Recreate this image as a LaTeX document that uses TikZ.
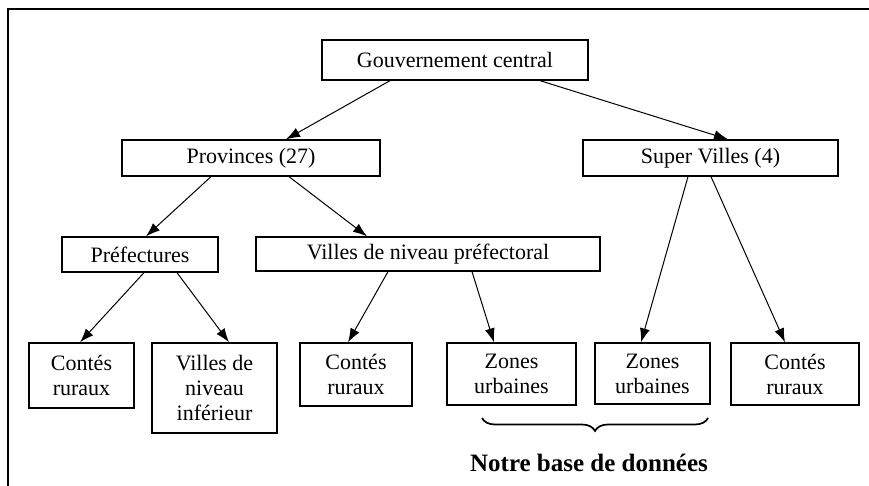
\documentclass[tikz,border=0pt]{standalone}
\usepackage{fontspec}
\setmainfont{Liberation Serif}
\usetikzlibrary{arrows.meta,decorations.pathreplacing}
\tikzset{
  boxnode/.style={draw, line width=1.3pt, inner sep=0pt, align=center,
    font=\fontsize{22}{25}\selectfont},
  link/.style={line width=1pt, -{Latex[length=14pt,width=10pt]}},
  frameline/.style={line width=1.4pt}
}
\begin{document}
\begin{tikzpicture}[x=1pt,y=-1pt]
\useasboundingbox (0,0) rectangle (869,486);
\fill[white] (0,0) rectangle (869,486);
% frame
\draw[frameline] (8,486) -- (8,9) -- (869,9);
% nodes
\node[boxnode, minimum width=266pt, minimum height=40pt] (gov) at (455,60) {Gouvernement central};
\node[boxnode, minimum width=258pt, minimum height=36pt] (prov) at (251,158) {Provinces (27)};
\node[boxnode, minimum width=255pt, minimum height=36pt] (super) at (710.5,158) {Super Villes (4)};
\node[boxnode, minimum width=156pt, minimum height=35pt] (pref) at (140,254.5) {Préfectures};
\node[boxnode, minimum width=344pt, minimum height=34pt] (vpref) at (428,254) {Villes de niveau préfectoral};
\node[boxnode, minimum width=105pt, minimum height=65pt] (a) at (81.5,375.5) {Contés\\ruraux};
\node[boxnode, minimum width=125pt, minimum height=90pt] (b) at (214.5,388) {Villes de\\niveau\\inférieur};
\node[boxnode, minimum width=112pt, minimum height=63pt] (c) at (356,374.5) {Contés\\ruraux};
\node[boxnode, minimum width=129pt, minimum height=62pt] (d) at (511.5,374) {Zones\\urbaines};
\node[boxnode, minimum width=115pt, minimum height=61pt] (e) at (652.5,373.5) {Zones\\urbaines};
\node[boxnode, minimum width=128pt, minimum height=62pt] (f) at (795,374) {Contés\\ruraux};
% connectors
\draw[link] ([xshift=-65pt]gov.south) -- ([xshift=35pt]prov.north);
\draw[link] ([xshift=85pt]gov.south) -- ([xshift=17.5pt]super.north);
\draw[link] ([xshift=-40pt]prov.south) -- ([xshift=6pt]pref.north);
\draw[link] ([xshift=38pt]prov.south) -- ([xshift=-61pt]vpref.north);
\draw[link] ([xshift=4pt]pref.south) -- ([xshift=-1.5pt]a.north);
\draw[link] ([xshift=37pt]pref.south) -- ([xshift=14.5pt]b.north);
\draw[link] ([xshift=-40pt]vpref.south) -- ([xshift=-8pt]c.north);
\draw[link] ([xshift=44pt]vpref.south) -- ([xshift=-17.5pt]d.north);
\draw[link] ([xshift=-22.5pt]super.south) -- ([xshift=-11.5pt]e.north);
\draw[link] ([xshift=0.5pt]super.south) -- ([xshift=-10pt]f.north);
% brace
\coordinate (bl) at (482,418);
\coordinate (br) at (708,418);
\draw[line width=1.7pt, decorate, decoration={brace, mirror, amplitude=13pt, aspect=0.5}] (bl) -- (br);
\node[font=\fontsize{25}{28}\selectfont\bfseries, inner sep=0pt] (db) at (589,463) {Notre base de données};
\end{tikzpicture}
\end{document}
